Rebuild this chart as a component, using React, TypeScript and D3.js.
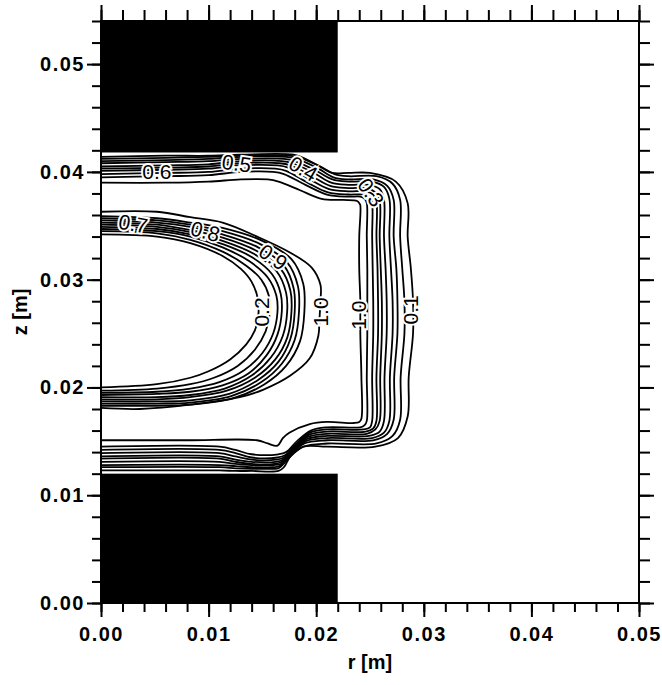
import React, { useRef, useEffect } from 'react';
import * as d3 from 'd3';

// all lengths in mm (axis labels shown in m)
const rTicksMajor = [0, 10, 20, 30, 40, 50];
const rTickLabels = ['0.00', '0.01', '0.02', '0.03', '0.04', '0.05'];
const zTicksMajor = [0, 10, 20, 30, 40, 50];
const zTickLabels = ['0.00', '0.01', '0.02', '0.03', '0.04', '0.05'];

const electrodes = [
  { r0: 0, r1: 22, z0: 0, z1: 12 },
  { r0: 0, r1: 22, z0: 41.8, z1: 54 },
];

// outer C-shaped bundle, innermost (1.0) first
const outerA = [[0,39.0],[6,39.0],[10,39.1],[13,39.3],[15.5,39.3],[16.5,39.1],[18.5,38.3],[20.5,37.5],[22.5,37.4],[23.8,37.3],[24.0,37.1],[24.1,36.9],[24.0,34.0],[24.0,31.0],[24.1,28.0],[24.1,25.0],[24.2,21.0],[24.2,17.1],[24.0,16.8],[23.5,16.7],[21.0,16.8],[19.4,16.6],[17.5,15.8],[16.9,15.3],[16.4,14.6],[15.5,14.8],[14.5,15.1],[8,15.1],[0,15.1]];
const outerB = [[0,39.5],[6,39.6],[10,39.7],[13,40.0],[16.0,40.0],[17.0,39.8],[19.0,38.8],[21.0,37.9],[23.0,37.7],[24.1,37.7],[24.5,37.5],[24.7,37.1],[24.7,34.0],[24.75,31.0],[24.75,28.0],[24.75,25.0],[24.7,21.0],[24.7,16.9],[24.5,16.5],[24.1,16.3],[21.0,16.3],[19.5,16.0],[18.2,15.0],[17.2,14.0],[16.5,13.8],[14.0,13.8],[12.5,14.2],[11,14.5],[0,14.5]];
const outerC = [[0,39.8],[6,39.9],[10,40.0],[13,40.3],[16.2,40.3],[17.2,40.1],[19.2,39.0],[21.1,38.1],[23.0,37.9],[24.4,37.9],[25.0,37.7],[25.2,37.1],[25.2,34.0],[25.25,31.0],[25.3,28.0],[25.3,25.0],[25.2,21.0],[25.2,16.9],[25.0,16.3],[24.4,16.1],[21.0,16.1],[19.4,15.8],[18.1,14.7],[17.1,13.7],[16.4,13.5],[14.0,13.5],[12.5,13.9],[11,14.2],[0,14.2]];
const outerD = [[0,40.1],[6,40.2],[10,40.3],[13,40.6],[16.4,40.6],[17.4,40.4],[19.4,39.3],[21.2,38.4],[23.0,38.2],[24.6,38.2],[25.3,37.9],[25.6,37.2],[25.6,34.0],[25.7,31.0],[25.75,28.0],[25.75,25.0],[25.6,21.0],[25.6,16.9],[25.3,16.2],[24.6,15.9],[21.0,15.9],[19.3,15.6],[18.0,14.5],[17.0,13.5],[16.3,13.3],[14.0,13.3],[12.5,13.6],[11,13.9],[0,13.9]];
const outerE = [[0,40.3],[6,40.4],[10,40.5],[13,40.8],[16.6,40.8],[17.6,40.6],[19.6,39.6],[21.3,38.7],[23.0,38.5],[24.7,38.5],[25.5,38.1],[25.9,37.3],[25.9,34.0],[26.0,31.0],[26.1,28.0],[26.1,25.0],[25.95,21.0],[25.9,16.9],[25.5,16.1],[24.7,15.7],[21.0,15.7],[19.2,15.4],[17.9,14.3],[16.9,13.3],[16.2,13.1],[14.0,13.1],[12.5,13.3],[11,13.6],[0,13.6]];
const outerF = [[0,40.5],[6,40.6],[10,40.7],[13,41.0],[16.8,41.0],[17.8,40.8],[19.8,39.9],[21.4,39.0],[23.0,38.8],[24.9,38.8],[25.9,38.4],[26.3,37.4],[26.3,34.0],[26.45,31.0],[26.55,28.0],[26.55,25.0],[26.35,21.0],[26.3,16.9],[25.9,15.9],[24.9,15.5],[21.0,15.5],[19.1,15.2],[17.8,14.1],[16.8,13.1],[16.1,12.9],[14.0,12.9],[12.5,13.1],[11,13.4],[0,13.4]];
const outerG = [[0,40.8],[6,40.9],[10,41.0],[13,41.2],[17.0,41.2],[18.0,41.0],[20.0,40.1],[21.5,39.3],[23.0,39.1],[25.2,39.1],[26.3,38.6],[26.8,37.5],[26.8,34.0],[26.95,31.0],[27.1,28.0],[27.1,25.0],[26.85,21.0],[26.8,16.9],[26.3,15.8],[25.2,15.3],[21.0,15.3],[19.0,15.0],[17.7,13.9],[16.7,12.9],[16.0,12.8],[14.0,12.8],[12.5,12.9],[11,13.1],[0,13.1]];
const outerH = [[0,41.0],[6,41.1],[10,41.2],[13,41.4],[17.2,41.4],[18.2,41.2],[20.2,40.3],[21.6,39.5],[23.0,39.3],[25.3,39.3],[26.6,38.7],[27.2,37.4],[27.2,34.0],[27.45,31.0],[27.55,28.0],[27.55,25.0],[27.25,21.0],[27.2,17.0],[26.6,15.7],[25.3,15.1],[21.0,15.1],[18.9,14.8],[17.6,13.7],[16.6,12.7],[15.9,12.6],[14.0,12.6],[12.5,12.7],[11,12.8],[0,12.8]];
const outerI = [[0,41.2],[6,41.3],[10,41.4],[13,41.5],[17.5,41.5],[18.5,41.3],[20.4,40.5],[21.7,39.8],[23.0,39.6],[25.6,39.6],[27.1,38.9],[27.8,37.4],[27.8,34.0],[28.0,31.0],[28.2,28.0],[28.2,25.0],[27.85,21.0],[27.8,17.0],[27.1,15.5],[25.6,14.8],[21.0,14.8],[18.8,14.5],[17.5,13.5],[16.5,12.5],[15.8,12.45],[14.0,12.45],[12.5,12.5],[11,12.6],[0,12.6]];
const outerJ = [[0,41.4],[6,41.5],[10,41.5],[13,41.6],[17.9,41.6],[18.8,41.3],[20.5,40.4],[21.5,39.9],[23.0,39.9],[25.0,39.9],[27.4,39.1],[28.5,37.1],[28.5,34.0],[28.8,31.0],[29.0,28.0],[29.0,25.0],[28.6,21.0],[28.5,17.3],[27.6,15.3],[25.5,14.5],[21.0,14.5],[18.8,14.5],[17.6,13.6],[17.0,12.6],[16.5,12.25],[14.0,12.25],[12.5,12.25],[11,12.3],[0,12.3]];

// inner C-shaped bundle, innermost first, outermost is the 1.0 line
const inner0 = [[0,34.2],[5.2,34.0],[8.3,33.4],[11.3,32.2],[13.0,31.0],[14.0,29.8],[14.6,28.1],[14.6,26.5],[14.3,25.3],[13.5,24.0],[12.0,22.6],[10.0,21.5],[8.3,20.9],[5.2,20.3],[0,20.0]];
const inner1 = [[0,34.5],[5.2,34.3],[8.3,33.7],[11.3,32.6],[13.5,31.3],[14.9,30.0],[15.6,28.5],[15.7,27.0],[15.3,25.2],[14.3,23.5],[12.7,22.0],[10.5,20.9],[8.3,20.3],[5.2,19.9],[0,19.7]];
const inner2 = [[0,34.7],[5.2,34.5],[8.3,34.0],[11.3,33.0],[13.8,31.7],[15.5,30.2],[16.3,28.5],[16.4,27.0],[16.0,25.0],[15.0,23.2],[13.3,21.6],[11.0,20.5],[8.3,19.9],[5.2,19.6],[0,19.5]];
const inner3 = [[0,34.9],[5.2,34.7],[8.3,34.2],[11.3,33.3],[14.0,32.1],[15.9,30.5],[16.7,28.7],[16.8,27.0],[16.4,24.9],[15.4,23.0],[13.7,21.3],[11.3,20.2],[8.3,19.6],[5.2,19.4],[0,19.3]];
const inner4 = [[0,35.1],[5.2,34.9],[8.3,34.4],[11.3,33.6],[14.2,32.4],[16.3,30.8],[17.2,28.8],[17.3,27.0],[16.9,24.8],[15.8,22.8],[14.0,21.1],[11.5,19.9],[8.3,19.3],[5.2,19.1],[0,19.1]];
const inner5 = [[0,35.3],[5.2,35.1],[8.3,34.6],[11.3,33.9],[14.4,32.7],[16.7,31.0],[17.6,29.0],[17.7,27.0],[17.3,24.6],[16.2,22.6],[14.3,20.9],[11.7,19.7],[8.3,19.1],[5.2,18.9],[0,18.9]];
const inner6 = [[0,35.5],[5.2,35.3],[8.3,34.9],[11.3,34.2],[14.6,33.0],[17.0,31.3],[17.9,29.2],[18.0,27.0],[17.6,24.5],[16.5,22.4],[14.6,20.7],[11.9,19.4],[8.3,18.8],[5.2,18.7],[0,18.7]];
const inner7 = [[0,35.7],[5.2,35.5],[8.3,35.1],[11.3,34.5],[14.8,33.3],[17.3,31.6],[18.3,29.4],[18.4,27.0],[18.0,24.4],[16.8,22.2],[14.9,20.5],[12.1,19.2],[8.3,18.6],[5.2,18.5],[0,18.5]];
const inner8 = [[0,35.9],[5.2,35.7],[8.3,35.3],[11.3,34.8],[15.0,33.6],[17.7,31.9],[18.8,29.6],[18.9,27.0],[18.5,24.3],[17.2,22.0],[15.2,20.3],[12.3,19.0],[8.3,18.4],[5.2,18.3],[0,18.3]];
const inner9 = [[0,36.3],[5.2,36.3],[8.3,35.8],[11.3,35.3],[14.5,34.0],[17.6,32.5],[19.6,31.1],[20.4,29.5],[20.4,28.1],[20.3,26.3],[20.2,24.8],[19.4,22.7],[17.6,21.1],[15.1,19.8],[12.9,19.1],[8.3,18.4],[3.6,18.0],[0,18.1]];

const contourLines = [
  outerA, outerB, outerC, outerD, outerE, outerF, outerG, outerH, outerI, outerJ,
  inner0, inner1, inner2, inner3, inner4, inner5, inner6, inner7, inner8, inner9,
];

const contourLabels = [
  { text: '0.6', r: 5.2, z: 40.0, angle: 0 },
  { text: '0.5', r: 12.6, z: 40.8, angle: 8 },
  { text: '0.4', r: 18.8, z: 40.3, angle: 30 },
  { text: '0.3', r: 25.1, z: 38.1, angle: 55 },
  { text: '1.0', r: 23.9, z: 26.7, angle: -90 },
  { text: '0.1', r: 28.8, z: 27.2, angle: -90 },
  { text: '0.7', r: 3.0, z: 35.2, angle: 10 },
  { text: '0.8', r: 9.7, z: 34.5, angle: 15 },
  { text: '0.9', r: 16.0, z: 32.1, angle: 35 },
  { text: '0.2', r: 14.9, z: 27.0, angle: -90 },
  { text: '1.0', r: 20.4, z: 27.0, angle: -90 },
];

const W = 662;
const H = 685;
const left = 101, right = 639, top = 21, bottom = 603;
const tickFont = '"Liberation Sans", Arial, sans-serif';

export default function App() {
  const ref = useRef<SVGSVGElement>(null);

  const x = d3.scaleLinear().domain([0, 50]).range([left, right]);
  const y = d3.scaleLinear().domain([0, 54]).range([bottom, top]);
  const line = d3.line<number[]>().x(d => x(d[0])).y(d => y(d[1])).curve(d3.curveCatmullRom.alpha(0.5));

  useEffect(() => {
    const svg = d3.select(ref.current);
    svg.selectAll('g.axis').remove();

    const rMinor = d3.range(0, 50.001, 2);
    const zMinor = d3.range(0, 54.001, 2);

    const add = (axis: any, tr: string) => {
      const g = svg.append('g').attr('class', 'axis').attr('transform', tr).call(axis);
      g.select('.domain').remove();
      g.selectAll('line').attr('stroke', '#000').attr('stroke-width', 2);
      g.selectAll('text')
        .attr('fill', '#000')
        .style('font-family', tickFont)
        .style('font-weight', 'bold')
        .style('font-size', '20px')
        .style('letter-spacing', '1.5px');
      return g;
    };

    // bottom
    add(d3.axisBottom(x).tickValues(rMinor).tickSize(9).tickFormat(() => ''), `translate(0,${bottom})`);
    add(d3.axisBottom(x).tickValues(rTicksMajor).tickSize(14).tickPadding(10).tickFormat((d, i) => rTickLabels[i]), `translate(0,${bottom})`);
    // top
    add(d3.axisTop(x).tickValues(rMinor).tickSize(11).tickFormat(() => ''), `translate(0,${top})`);
    add(d3.axisTop(x).tickValues(rTicksMajor).tickSize(16).tickFormat(() => ''), `translate(0,${top})`);
    // left
    add(d3.axisLeft(y).tickValues(zMinor).tickSize(9).tickFormat(() => ''), `translate(${left},0)`);
    add(d3.axisLeft(y).tickValues(zTicksMajor).tickSize(14).tickPadding(2).tickFormat((d, i) => zTickLabels[i]), `translate(${left},0)`);
    // right
    add(d3.axisRight(y).tickValues(zMinor).tickSize(11).tickFormat(() => ''), `translate(${right},0)`);
    add(d3.axisRight(y).tickValues(zTicksMajor).tickSize(15).tickFormat(() => ''), `translate(${right},0)`);
  }, []);

  return (
    <svg
      ref={ref}
      width={W}
      height={H}
      style={{ position: 'absolute', left: 0, top: 0, background: '#fff' }}
    >
      <defs>
        <clipPath id="plot-clip">
          <rect x={left} y={top} width={right - left} height={bottom - top} />
        </clipPath>
      </defs>
      <g clipPath="url(#plot-clip)">
        {contourLines.map((pts, i) => (
          <path key={i} d={line(pts) || ''} fill="none" stroke="#000" strokeWidth={1.8} />
        ))}
        {contourLabels.map((l, i) => (
          <text
            key={i}
            transform={`translate(${x(l.r)},${y(l.z)}) rotate(${l.angle})`}
            textAnchor="middle"
            dominantBaseline="central"
            fontFamily={tickFont}
            fontSize={21}
            fill="#000"
            stroke="#fff"
            strokeWidth={4}
            paintOrder="stroke"
          >
            {l.text}
          </text>
        ))}
        {electrodes.map((e, i) => (
          <rect
            key={i}
            x={x(e.r0)}
            y={y(e.z1)}
            width={x(e.r1) - x(e.r0)}
            height={y(e.z0) - y(e.z1)}
            fill="#000"
          />
        ))}
      </g>
      <rect x={left} y={top} width={right - left} height={bottom - top} fill="none" stroke="#000" strokeWidth={2} />
      <text x={(left + right) / 2} y={669} textAnchor="middle" fontFamily={tickFont} fontWeight="bold" fontSize={20}>
        r [m]
      </text>
      <text
        transform={`translate(27,${(top + bottom) / 2}) rotate(-90)`}
        textAnchor="middle"
        fontFamily={tickFont}
        fontWeight="bold"
        fontSize={20}
      >
        z [m]
      </text>
    </svg>
  );
}
